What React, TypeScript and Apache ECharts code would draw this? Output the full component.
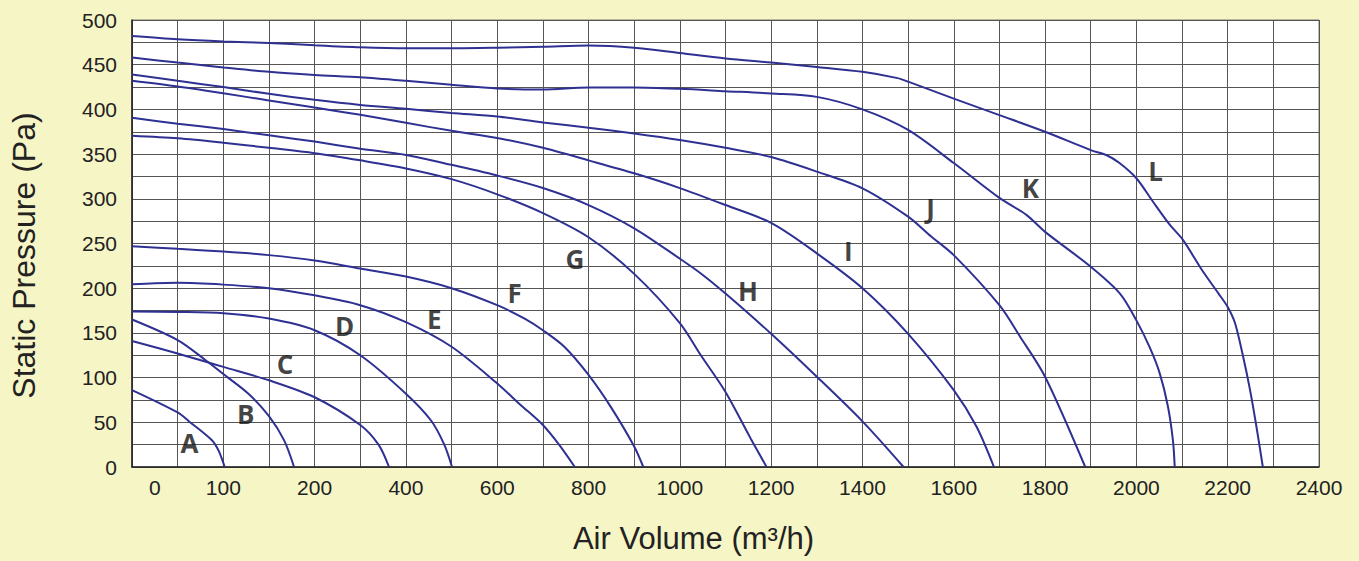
import React, { useEffect, useRef } from 'react';
import * as echarts from 'echarts';

// Axis tick labels (as printed on the original chart)
const xTickValues = [-150, 0, 200, 400, 600, 800, 1000, 1200, 1400, 1600, 1800, 2000, 2200, 2400];
const xTickLabels = ['0', '100', '200', '400', '600', '800', '1000', '1200', '1400', '1600', '1800', '2000', '2200', '2400'];

// Fan curves: [air volume, static pressure]
const curveA = [[-200, 86], [-100, 61], [-75, 51], [-25, 30], [-10, 18], [3, 0]];
const curveB = [[-200, 165], [-100, 142], [-40, 120], [0, 104], [55, 82], [100, 57], [133, 30], [155, 0]];
const curveC = [[-200, 141], [-100, 127], [-40, 118], [0, 112], [100, 97], [200, 78], [300, 47], [340, 25], [363, 0]];
const curveD = [[-200, 174], [-100, 173.5], [0, 172], [100, 166], [200, 153], [300, 125], [400, 82], [455, 52], [484, 25], [501, 0]];
const curveE = [[-200, 204.5], [-150, 205.6], [-100, 206], [0, 204], [100, 200], [200, 192], [300, 181], [400, 162], [500, 134.5], [600, 93.5], [650, 70], [700, 47], [737, 24], [770, 0]];
const curveF = [[-200, 247], [-100, 244], [0, 241], [100, 237], [200, 231], [300, 222], [400, 213], [500, 200], [600, 181], [660, 166], [700, 153], [747, 134.5], [800, 103], [849, 67], [900, 23], [920, 0]];
const curveG = [[-200, 370.5], [-100, 367.6], [0, 362.7], [100, 357], [200, 351], [300, 343], [400, 334], [500, 322], [600, 305], [700, 284], [800, 257], [900, 216], [1000, 161], [1046, 125], [1100, 84], [1155, 32], [1190, 0]];
const curveH = [[-200, 390.6], [-100, 384], [0, 378], [100, 371], [200, 364], [300, 356], [400, 349], [500, 338], [600, 326], [700, 312], [800, 293], [900, 267], [1000, 233], [1046, 216.5], [1100, 194], [1200, 149], [1300, 101], [1400, 51], [1490, 0]];
const curveI = [[-200, 432], [-100, 425.6], [0, 418], [100, 410], [200, 402], [300, 394], [400, 385], [500, 376], [600, 368], [700, 357], [800, 343], [900, 328.5], [1000, 312], [1100, 293], [1200, 273], [1300, 239], [1400, 200], [1500, 149], [1600, 86], [1650, 45], [1688, 0]];
const curveJ = [[-200, 439], [-100, 432], [0, 425], [100, 417.4], [200, 410.7], [300, 405], [400, 400.7], [500, 396], [600, 392], [700, 385.4], [800, 379.5], [900, 373], [1000, 365.7], [1100, 357], [1200, 346.7], [1300, 330.4], [1400, 311.7], [1500, 280], [1550, 258], [1600, 237], [1700, 181], [1745, 146], [1800, 101], [1888, 0]];
const curveK = [[-200, 458], [-100, 452.4], [0, 447], [100, 442], [200, 438.6], [300, 436], [400, 432], [500, 427.5], [600, 423.4], [700, 422.2], [800, 424.5], [900, 424.5], [1000, 423], [1100, 420.4], [1200, 417.8], [1300, 414], [1400, 400], [1500, 377], [1600, 340], [1700, 301], [1759, 282], [1800, 263], [1900, 224], [1964, 194], [2000, 164], [2029, 134], [2051, 105], [2069, 68], [2080, 30], [2084, 0]];
const curveL = [[-200, 482], [-100, 478.4], [0, 476], [100, 474.3], [200, 471.7], [300, 469.5], [400, 468.4], [500, 468.4], [600, 469], [700, 470], [800, 471.4], [900, 469], [1000, 463], [1100, 457], [1200, 452.4], [1300, 447.5], [1400, 442], [1477, 435], [1500, 431], [1600, 412], [1700, 393.6], [1800, 375], [1900, 354.5], [1934, 349], [1963, 340], [2000, 323], [2036, 297], [2073, 271], [2102, 254], [2144, 220], [2180, 194], [2200, 179], [2216, 161], [2234, 123], [2249, 86], [2263, 45], [2277, 0]];

const curveNames = ['A', 'B', 'C', 'D', 'E', 'F', 'G', 'H', 'I', 'J', 'K', 'L'];
const curves = [curveA, curveB, curveC, curveD, curveE, curveF, curveG, curveH, curveI, curveJ, curveK, curveL];

// Curve letter positions
const labelX = [-74, 49, 135, 266, 462, 638, 770, 1149, 1369, 1549, 1768, 2042];
const labelY = [27, 59, 115, 158, 165, 195, 233, 197, 242, 290, 312, 331];

const FONT = '"Liberation Sans", Arial, sans-serif';

export default function App() {
  const ref = useRef<HTMLDivElement>(null);
  useEffect(() => {
    const chart = echarts.init(ref.current as HTMLDivElement, null, { renderer: 'svg' });
    const lineSeries = curves.map((c, i) => ({
      type: 'line',
      name: curveNames[i],
      data: c,
      showSymbol: false,
      smooth: 0.3,
      silent: true,
      lineStyle: { color: '#2E3192', width: 2 },
      z: 3,
    }));
    chart.setOption({
      animation: false,
      backgroundColor: '#F6F5C6',
      grid: {
        left: 132,
        right: 40,
        top: 20,
        bottom: 94,
        show: true,
        backgroundColor: '#ffffff',
        borderColor: '#777',
        borderWidth: 1,
      },
      xAxis: {
        type: 'value',
        min: -200,
        max: 2400,
        interval: 100,
        axisLine: { show: true, onZero: false, lineStyle: { color: '#222', width: 1.5 } },
        axisTick: { show: false },
        splitLine: { show: true, lineStyle: { color: '#555', width: 1 } },
        axisLabel: {
          customValues: xTickValues,
          formatter: (v: number) => {
            const i = xTickValues.indexOf(v);
            return i >= 0 ? xTickLabels[i] : '';
          },
          fontSize: 21,
          color: '#222',
          fontFamily: FONT,
          margin: 10,
        },
        name: 'Air Volume (m³/h)',
        nameLocation: 'middle',
        nameGap: 56,
        nameTextStyle: { fontSize: 31, color: '#222', fontFamily: FONT, padding: [0, 64, 0, 0] },
      },
      yAxis: {
        type: 'value',
        min: 0,
        max: 500,
        interval: 25,
        axisLine: { show: true, onZero: false, lineStyle: { color: '#222', width: 1.5 } },
        axisTick: { show: false },
        splitLine: { show: true, lineStyle: { color: '#555', width: 1 } },
        axisLabel: {
          formatter: (v: number) => (v % 50 === 0 ? String(v) : ''),
          fontSize: 21,
          color: '#222',
          fontFamily: FONT,
          margin: 15,
        },
        name: 'Static Pressure (Pa)',
        nameLocation: 'middle',
        nameGap: 92,
        nameTextStyle: { fontSize: 32, color: '#222', fontFamily: FONT, padding: [0, 24, 0, 0] },
      },
      series: [
        ...lineSeries,
        {
          type: 'scatter',
          data: labelX.map((x, i) => [x, labelY[i], curveNames[i]]),
          symbolSize: 1,
          itemStyle: { color: 'rgba(0,0,0,0)' },
          silent: true,
          z: 4,
          label: {
            show: true,
            position: 'inside',
            formatter: (p: any) => p.value[2],
            fontSize: 26,
            fontWeight: 'bold',
            fontFamily: '"Open Sans", sans-serif',
            color: '#111',
          },
        },
      ],
    });
    return () => chart.dispose();
  }, []);
  return (
    <div
      ref={ref}
      style={{ position: 'fixed', left: 0, top: 0, width: 1359, height: 561, background: '#F6F5C6' }}
    />
  );
}
